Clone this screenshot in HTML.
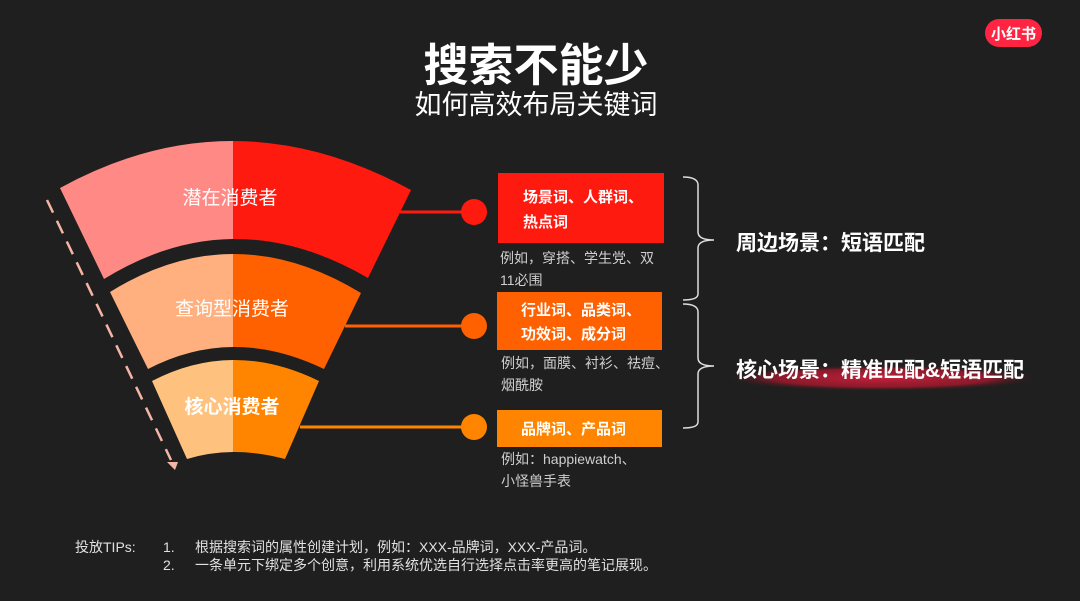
<!DOCTYPE html>
<html><head><meta charset="utf-8"><style>
html,body{margin:0;padding:0;background:#1f1f1f;}
svg{display:block;}
text{font-family:"Liberation Sans","Noto Sans CJK SC",sans-serif;}
</style></head><body>
<svg width="1080" height="601" viewBox="0 0 1080 601" xmlns="http://www.w3.org/2000/svg">
<rect width="1080" height="601" fill="#1f1f1f"/>
<rect x="985" y="19" width="57" height="28" rx="14" fill="#ff2442"/>
<text x="1013.5" y="39" text-anchor="middle" font-size="15" font-weight="bold" fill="#fff">小红书</text>
<text x="536" y="81" text-anchor="middle" font-size="45" font-weight="bold" fill="#fff">搜索不能少</text>
<text x="536" y="114" text-anchor="middle" font-size="27" fill="#fff">如何高效布局关键词</text>
<defs>
<clipPath id="L"><rect x="0" y="0" width="233" height="601"/></clipPath>
<clipPath id="R"><rect x="233" y="0" width="400" height="601"/></clipPath>
<radialGradient id="glow" cx="0.5" cy="0.5" r="0.5"><stop offset="0" stop-color="#c0203a"/><stop offset="0.7" stop-color="#8a1a2a"/><stop offset="1" stop-color="#3a1a1e" stop-opacity="0"/></radialGradient>
</defs>
<path d="M60 188 Q233 93 411 190 L368 278 Q233 199.5 104 279 Z" fill="#ff8a85" clip-path="url(#L)"/>
<path d="M60 188 Q233 93 411 190 L368 278 Q233 199.5 104 279 Z" fill="#ff1a10" clip-path="url(#R)"/>
<path d="M110 292 Q233 215.5 361 293 L324 369 Q233 325 148 369 Z" fill="#ffb07e" clip-path="url(#L)"/>
<path d="M110 292 Q233 215.5 361 293 L324 369 Q233 325 148 369 Z" fill="#ff6000" clip-path="url(#R)"/>
<path d="M152 381 Q233 339 319 381 L285 459 Q233 445 187 459 Z" fill="#ffc27e" clip-path="url(#L)"/>
<path d="M152 381 Q233 339 319 381 L285 459 Q233 445 187 459 Z" fill="#ff8500" clip-path="url(#R)"/>
<text x="230" y="204" text-anchor="middle" font-size="19" fill="#fff">潜在消费者</text>
<text x="232" y="315" text-anchor="middle" font-size="19" fill="#fff">查询型消费者</text>
<text x="232" y="413" text-anchor="middle" font-size="19" font-weight="bold" fill="#fff">核心消费者</text>
<line x1="47" y1="200" x2="171" y2="460" stroke="#f5b5a5" stroke-width="2.5" stroke-dasharray="14,9"/>
<polygon points="167,462 178,462 175,470" fill="#f5b5a5"/>
<line x1="400" y1="212" x2="474" y2="212" stroke="#ff1a10" stroke-width="3"/>
<circle cx="474" cy="212" r="13" fill="#ff1a10"/>
<line x1="345" y1="326" x2="474" y2="326" stroke="#ff6000" stroke-width="3"/>
<circle cx="474" cy="326" r="13" fill="#ff6000"/>
<line x1="300" y1="427" x2="474" y2="427" stroke="#ff8500" stroke-width="3"/>
<circle cx="474" cy="427" r="13" fill="#ff8500"/>
<rect x="498" y="173" width="166" height="70" fill="#ff1a10"/>
<text x="523" y="202" font-size="15" font-weight="bold" fill="#fff">场景词、人群词、</text>
<text x="523" y="227" font-size="15" font-weight="bold" fill="#fff">热点词</text>
<rect x="497" y="292" width="165" height="58" fill="#ff6000"/>
<text x="521" y="315" font-size="15" font-weight="bold" fill="#fff">行业词、品类词、</text>
<text x="521" y="339" font-size="15" font-weight="bold" fill="#fff">功效词、成分词</text>
<rect x="497" y="410" width="165" height="37" fill="#ff8500"/>
<text x="521" y="434" font-size="15" font-weight="bold" fill="#fff">品牌词、产品词</text>
<g font-size="14" fill="#cfcfcf">
<text x="500" y="263">例如，穿搭、学生党、双</text>
<text x="500" y="285">11必围</text>
<text x="501" y="368">例如，面膜、衬衫、祛痘、</text>
<text x="501" y="390">烟酰胺</text>
<text x="501" y="464">例如：happiewatch、</text>
<text x="501" y="486">小怪兽手表</text>
</g>
<path d="M683 177 Q698 177 698 185 L698 232 Q698 240 714 240 Q698 240 698 248 L698 294 Q698 300 683 300" fill="none" stroke="#ddd" stroke-width="1.5"/>
<path d="M683 304 Q698 304 698 312 L698 358 Q698 366 714 366 Q698 366 698 374 L698 422 Q698 428 683 428" fill="none" stroke="#ddd" stroke-width="1.5"/>
<text x="736" y="250" font-size="21" font-weight="bold" fill="#fff">周边场景：短语匹配</text>
<ellipse cx="882" cy="378" rx="155" ry="13" fill="url(#glow)"/>
<text x="736" y="377" font-size="21" font-weight="bold" fill="#fff">核心场景：精准匹配&amp;短语匹配</text>
<g font-size="14" fill="#e0e0e0">
<text x="75" y="552">投放TIPs:</text>
<text x="163" y="552">1.</text>
<text x="195" y="552">根据搜索词的属性创建计划，例如：XXX-品牌词，XXX-产品词。</text>
<text x="163" y="570">2.</text>
<text x="195" y="570">一条单元下绑定多个创意，利用系统优选自行选择点击率更高的笔记展现。</text>
</g>
</svg>
</body></html>
